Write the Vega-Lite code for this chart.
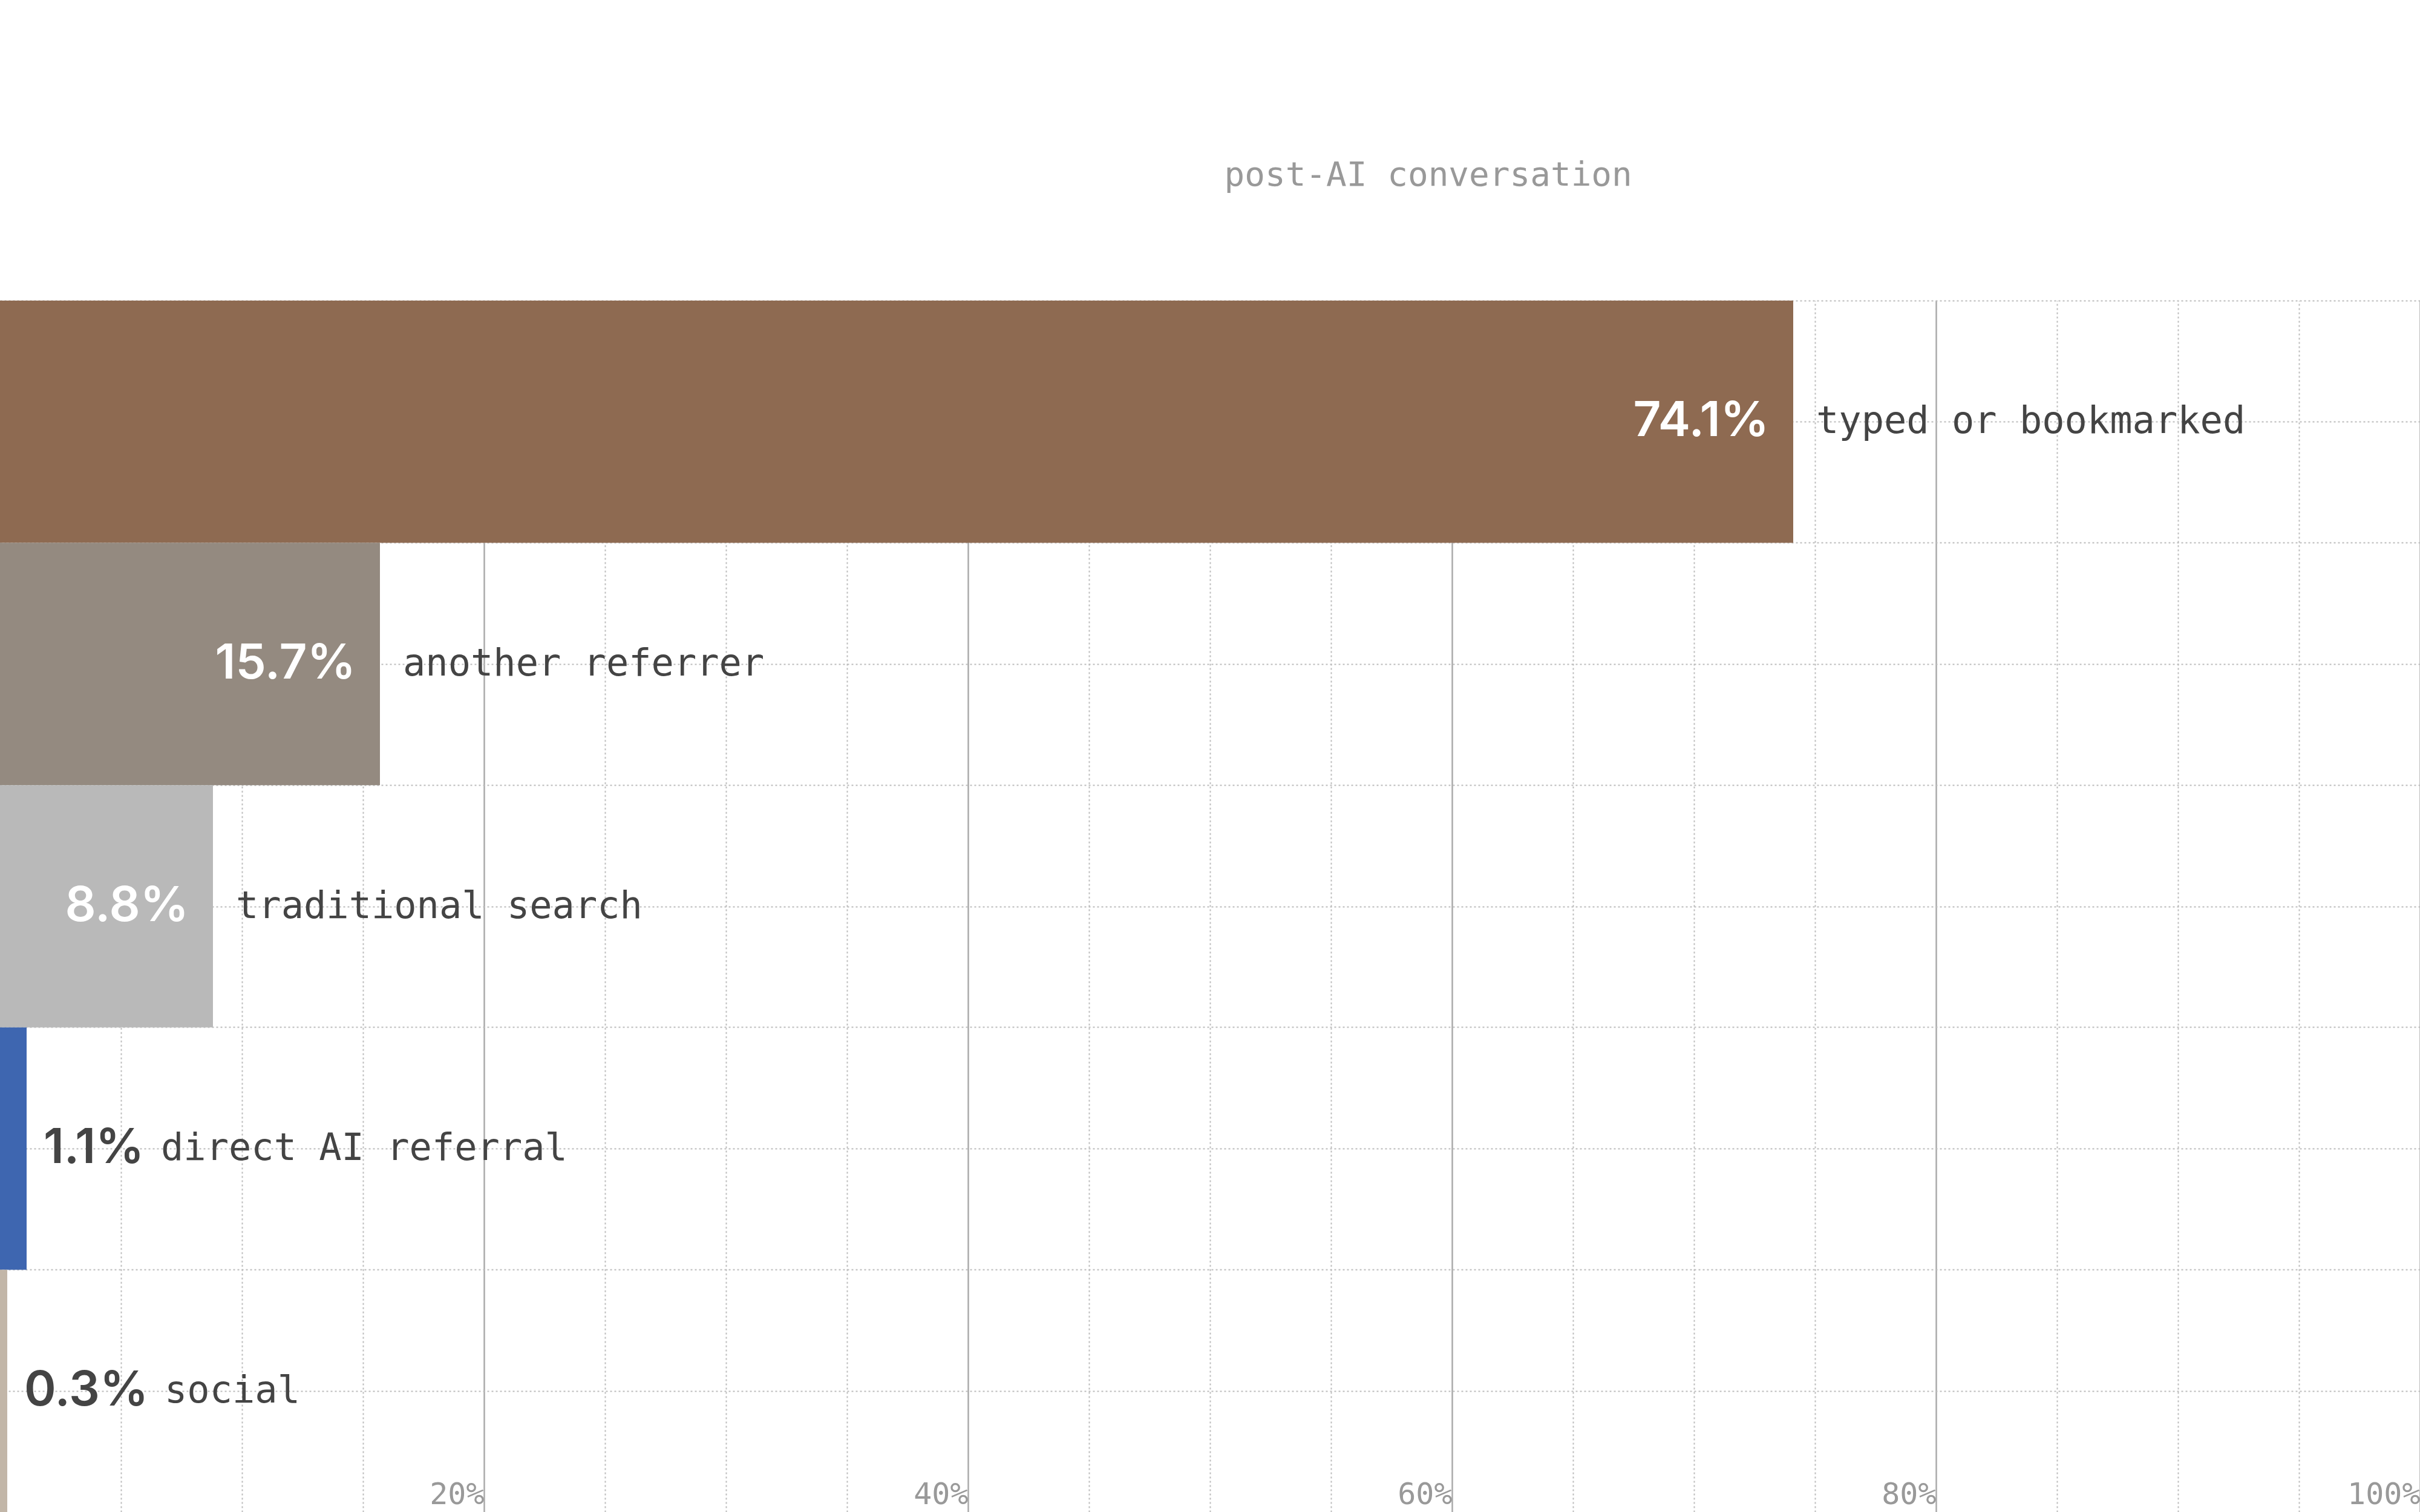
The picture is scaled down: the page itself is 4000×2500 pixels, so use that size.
{
  "$schema": "https://vega.github.io/schema/vega-lite/v6.json",
  "autosize": {"type": "none"},
  "padding": {"top": 497, "left": 0, "right": 0, "bottom": 0},
  "width": 4000,
  "height": 2003,
  "background": "white",
  "config": {"view": {"stroke": null}},
  "title": {
    "text": "News visit attribution",
    "anchor": "start",
    "frame": "group",
    "orient": "top",
    "baseline": "alphabetic",
    "offset": 191,
    "dx": 122,
    "font": "Inter",
    "fontSize": 215,
    "fontWeight": 700,
    "color": "#222222"
  },
  "data": {
    "values": [
      {"source": "typed or bookmarked", "share": 0.741, "size": "big"},
      {"source": "another referrer", "share": 0.157, "size": "big"},
      {"source": "traditional search", "share": 0.088, "size": "big"},
      {"source": "direct AI referral", "share": 0.011, "size": "small"},
      {"source": "social", "share": 0.003, "size": "tiny"}
    ]
  },
  "encoding": {
    "x": {
      "field": "share",
      "type": "quantitative",
      "scale": {"domain": [0, 1], "nice": false},
      "axis": {
        "title": null,
        "values": [0, 0.05, 0.1, 0.15, 0.2, 0.25, 0.3, 0.35, 0.4, 0.45, 0.5, 0.55, 0.6, 0.65, 0.7, 0.75, 0.8, 0.85, 0.9, 0.95, 1],
        "format": ".0%",
        "labelExpr": "(round(datum.value*100) % 20 === 0 && datum.value > 0) ? datum.label : ''",
        "labelAlign": "right",
        "labelBaseline": "alphabetic",
        "labelPadding": -14,
        "labelDx": -14,
        "labelFont": "DejaVu Sans Mono",
        "labelFontSize": 50,
        "labelColor": "#999999",
        "labelFlush": false,
        "labelOverlap": false,
        "ticks": false,
        "domain": false,
        "grid": true,
        "gridColor": {"condition": {"test": "round(datum.value*100) % 20 === 0", "value": "#aaaaaa"}, "value": "#bbbbbb"},
        "gridDash": {"condition": {"test": "round(datum.value*100) % 20 === 0", "value": []}, "value": [3, 4]},
        "gridWidth": {"condition": {"test": "round(datum.value*100) % 20 === 0", "value": 2.5}, "value": 2}
      }
    }
  },
  "layer": [
    {
      "mark": {"type": "bar", "cornerRadius": 0},
      "encoding": {
        "y": {
          "field": "source",
          "type": "nominal",
          "sort": null,
          "scale": {"paddingInner": 0, "paddingOuter": 0},
          "axis": {
            "title": "post-AI conversation",
            "titleAngle": 0,
            "titleX": 2023,
            "titleY": -191,
            "titleAlign": "left",
            "titleBaseline": "alphabetic",
            "titleFont": "DejaVu Sans Mono",
            "titleFontSize": 56,
            "titleFontWeight": 400,
            "titleColor": "#999999",
            "labels": false,
            "ticks": false,
            "domain": false,
            "grid": true,
            "bandPosition": 0,
            "gridColor": "#bbbbbb",
            "gridDash": [3, 4],
            "gridWidth": 2
          }
        },
        "color": {
          "field": "source",
          "type": "nominal",
          "scale": {
            "domain": ["typed or bookmarked", "another referrer", "traditional search", "direct AI referral", "social"],
            "range": ["#8E6A51", "#948A80", "#B9B9B9", "#3E66B0", "#C2B6A8"]
          },
          "legend": null
        }
      }
    },
    {
      "layer": [
        {
          "transform": [{"filter": "datum.size === 'big'"}],
          "mark": {"type": "text", "align": "right", "dx": -40, "font": "Inter", "fontSize": 80, "fontWeight": 600, "color": "white"},
          "encoding": {"text": {"field": "share", "format": ".1%"}}
        },
        {
          "transform": [{"filter": "datum.size === 'big'"}],
          "mark": {"type": "text", "align": "left", "dx": 38, "font": "DejaVu Sans Mono", "fontSize": 62, "color": "#444444"},
          "encoding": {"text": {"field": "source"}}
        },
        {
          "transform": [{"filter": "datum.size !== 'big'"}],
          "mark": {"type": "text", "align": "left", "dx": 28, "font": "Inter", "fontSize": 80, "fontWeight": 600, "color": "#444444"},
          "encoding": {"text": {"field": "share", "format": ".1%"}}
        },
        {
          "transform": [{"filter": "datum.size === 'small'"}],
          "mark": {"type": "text", "align": "left", "dx": 222, "font": "DejaVu Sans Mono", "fontSize": 62, "color": "#444444"},
          "encoding": {"text": {"field": "source"}}
        },
        {
          "transform": [{"filter": "datum.size === 'tiny'"}],
          "mark": {"type": "text", "align": "left", "dx": 260, "font": "DejaVu Sans Mono", "fontSize": 62, "color": "#444444"},
          "encoding": {"text": {"field": "source"}}
        }
      ],
      "encoding": {
        "y": {
          "field": "source",
          "type": "nominal",
          "sort": null,
          "scale": {"paddingInner": 0, "paddingOuter": 0},
          "axis": {
            "title": null,
            "labels": false,
            "ticks": false,
            "domain": false,
            "grid": true,
            "bandPosition": 0.5,
            "gridColor": "#bbbbbb",
            "gridDash": [3, 4],
            "gridWidth": 2
          }
        }
      }
    }
  ],
  "resolve": {"scale": {"y": "independent"}, "axis": {"y": "independent"}}
}
